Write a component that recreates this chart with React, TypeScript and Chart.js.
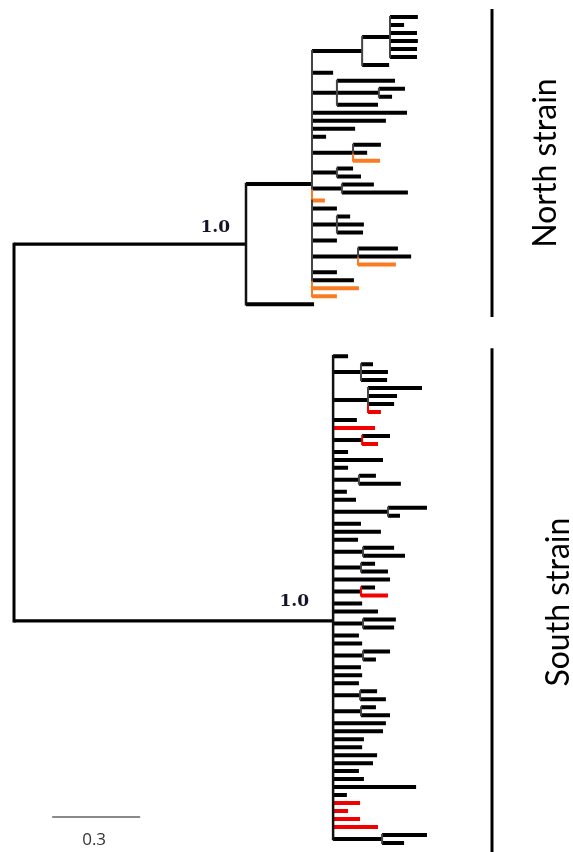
import React, { useEffect, useRef } from "react";
import { Chart, registerables } from "chart.js";

Chart.register(...registerables);

// ---------- DATA (branch depths in substitutions per site) ----------
// internal nodes: 0 = root, 1 = North clade, 2 = South clade, others = sub-clades
const nodeParent = [-1, 0, 0, 1, 3, 4, 3, 6, 3, 3, 3, 3, 3, 2, 2, 2, 2, 2, 2, 2, 2, 2, 2, 2, 2, 2];
const nodeDepth = [
  0, 0.791, 1.088, 1.016, 1.187, 1.282, 1.101, 1.244, 1.156, 1.101, 1.118, 1.101, 1.173,
  1.183, 1.207, 1.187, 1.176, 1.275, 1.19, 1.183, 1.183, 1.19, 1.19, 1.18, 1.183, 1.255,
];

// tips, top to bottom
const northTipParent = [5, 5, 5, 5, 5, 5, 4, 3, 6, 7, 7, 6, 3, 3, 3, 3, 8, 8, 8, 9, 9, 10, 10, 3, 3, 11, 11, 11, 3, 12, 12, 12, 3, 3, 3, 3, 1];
const northTipDepth = [
  1.377, 1.33, 1.374, 1.377, 1.374, 1.374, 1.279, 1.088, 1.299, 1.333, 1.289, 1.241,
  1.34, 1.268, 1.163, 1.064, 1.251, 1.204, 1.248, 1.156, 1.183, 1.227, 1.343, 1.06,
  1.101, 1.146, 1.193, 1.19, 1.101, 1.309, 1.354, 1.302, 1.101, 1.159, 1.176, 1.101, 1.023,
];
const northHighlightedTips = [18, 23, 31, 34, 35];

const southTipParent = [
  2, 13, 13, 13, 14, 14, 14, 14, 2, 2, 15, 15, 2, 2, 2, 16, 16, 2, 2, 17, 17, 2, 2, 2,
  18, 18, 19, 19, 2, 20, 20, 2, 2, 21, 21, 2, 2, 22, 22, 2, 2, 2, 23, 23, 24, 24,
  2, 2, 2, 2, 2, 2, 2, 2, 2, 2, 2, 2, 2, 2, 25, 25,
];
const southTipDepth = [
  1.139, 1.224, 1.275, 1.272, 1.391, 1.306, 1.296, 1.251, 1.169, 1.231, 1.282, 1.241,
  1.139, 1.258, 1.139, 1.234, 1.319, 1.135, 1.166, 1.408, 1.316, 1.183, 1.251, 1.173,
  1.296, 1.333, 1.231, 1.275, 1.282, 1.231, 1.275, 1.187, 1.241, 1.302, 1.296, 1.176,
  1.187, 1.282, 1.234, 1.183, 1.187, 1.176, 1.238, 1.268, 1.234, 1.282, 1.268, 1.258,
  1.193, 1.187, 1.238, 1.224, 1.176, 1.193, 1.371, 1.135, 1.18, 1.139, 1.18, 1.241,
  1.408, 1.33,
];
const southHighlightedTips = [7, 9, 11, 30, 56, 57, 58, 59];

const supportNodes = [1, 2];
const supportValues = ["1.0", "1.0"];
const cladeNames = ["North strain", "South strain"];
const scaleBarLength = 0.3;
const scaleBarLabel = "0.3";

// ---------- LAYOUT / STYLE ----------
const W = 573;
const H = 852;
const CLADE_GAP = 5.5; // extra empty tip slots between the clades
const COLORS: Record<string, string> = { base: "#000000", north: "#F97B22", south: "#F20000" };

// ---------- TREE LAYOUT ----------
const nN = northTipParent.length;
const tipParent = [...northTipParent, ...southTipParent];
const tipDepth = [...northTipDepth, ...southTipDepth];
const tipSlot = tipParent.map((_, i) => (i < nN ? i : i + CLADE_GAP));
const tipKey = tipParent.map((_, i) =>
  i < nN
    ? northHighlightedTips.includes(i) ? "north" : "base"
    : southHighlightedTips.includes(i - nN) ? "south" : "base"
);

type Child = { y: number; key: string };
const children: Child[][] = nodeDepth.map(() => []);
tipParent.forEach((p, i) => children[p].push({ y: tipSlot[i], key: tipKey[i] }));
const nodeY: number[] = new Array(nodeDepth.length).fill(0);
for (let n = nodeDepth.length - 1; n >= 0; n--) {
  const ys = children[n].map((c) => c.y);
  nodeY[n] = ys.reduce((a, b) => a + b, 0) / ys.length;
  if (nodeParent[n] >= 0) children[nodeParent[n]].push({ y: nodeY[n], key: "base" });
}

function buildDatasets() {
  const buckets = new Map<string, { color: string; width: number; cap: string; pts: any[] }>();
  const seg = (x1: number, y1: number, x2: number, y2: number, color: string, width: number, cap: string) => {
    const k = color + "|" + width + "|" + cap;
    if (!buckets.has(k)) buckets.set(k, { color, width, cap, pts: [] });
    const b = buckets.get(k)!;
    b.pts.push({ x: x1, y: y1 }, { x: x2, y: y2 }, { x: x2, y: null });
  };
  // vertical stems
  for (let n = 0; n < nodeDepth.length; n++) {
    const cs = [...children[n]].sort((a, b) => a.y - b.y);
    const isRoot = n === 0;
    const isClade = nodeParent[n] === 0;
    for (let i = 1; i < cs.length; i++) {
      let color = isRoot ? "#000" : isClade ? "#111" : "#444";
      if (!isRoot && !isClade && cs[i].key !== "base") color = COLORS[cs[i].key];
      const w = isRoot ? 3 : isClade ? 2.5 : 2;
      seg(nodeDepth[n], cs[i - 1].y, nodeDepth[n], cs[i].y, color, w, "square");
    }
  }
  // internal branches
  for (let n = 1; n < nodeDepth.length; n++) {
    const w = nodeParent[n] === 0 ? 3.2 : 4;
    seg(nodeDepth[nodeParent[n]], nodeY[n], nodeDepth[n], nodeY[n], "#000", w, "butt");
  }
  // terminal branches
  tipParent.forEach((p, i) => {
    seg(nodeDepth[p], tipSlot[i], tipDepth[i], tipSlot[i], COLORS[tipKey[i]], 4, "butt");
  });
  return [...buckets.values()].map((b) => ({
    data: b.pts,
    showLine: true,
    borderColor: b.color,
    backgroundColor: b.color,
    borderWidth: b.width,
    borderCapStyle: b.cap,
    borderJoinStyle: "miter",
    pointRadius: 0,
    pointHoverRadius: 0,
    tension: 0,
    spanGaps: false,
    fill: false,
  }));
}

// pixel mapping: x 14px = depth 0, 293.3 px per unit; tip slot 0 at 17px, 7.98 px per slot
const X_MIN = -14 / 293.3;
const X_MAX = (W - 14) / 293.3;
const Y_MIN = -17 / 7.98;
const Y_MAX = (H - 17) / 7.98;

const decorPlugin = {
  id: "treeDecor",
  afterDatasetsDraw(chart: any) {
    const { ctx, scales } = chart;
    const xs = scales.x;
    const ys = scales.y;
    ctx.save();

    // support values
    const supportOffsets = [
      [16, 12],
      [24, 15],
    ];
    ctx.font = 'bold 17px "DejaVu Serif"';
    ctx.fillStyle = "#141428";
    ctx.textAlign = "right";
    ctx.textBaseline = "alphabetic";
    supportNodes.forEach((n, i) => {
      const px = xs.getPixelForValue(nodeDepth[n]) - supportOffsets[i][0];
      const py = ys.getPixelForValue(nodeY[n]) - supportOffsets[i][1];
      ctx.fillText(supportValues[i], px, py);
    });

    // clade bars + labels
    const ranges = [
      [tipSlot[0], tipSlot[nN - 1]],
      [tipSlot[nN], tipSlot[tipSlot.length - 1]],
    ];
    const barX = chart.chartArea.right - 81;
    const labelDx = [64, 77];
    ranges.forEach((r, i) => {
      const y1 = ys.getPixelForValue(r[0] - 1.0);
      const y2 = ys.getPixelForValue(r[1] + 1.6);
      ctx.strokeStyle = "#000";
      ctx.lineWidth = 3;
      ctx.lineCap = "butt";
      ctx.beginPath();
      ctx.moveTo(barX, y1);
      ctx.lineTo(barX, y2);
      ctx.stroke();
      ctx.save();
      ctx.translate(barX + labelDx[i], (y1 + Math.min(y2, chart.height)) / 2 + (i === 1 ? 2 : 0));
      ctx.rotate(-Math.PI / 2);
      ctx.font = '32px "Lato"';
      ctx.fillStyle = "#000";
      ctx.textAlign = "center";
      ctx.textBaseline = "alphabetic";
      ctx.fillText(cladeNames[i], 0, 0);
      ctx.restore();
    });

    // scale bar
    const sx1 = xs.getPixelForValue(0.13);
    const sx2 = xs.getPixelForValue(0.13 + scaleBarLength);
    const sy = chart.chartArea.bottom - 35;
    ctx.strokeStyle = "#8a8a8a";
    ctx.lineWidth = 2;
    ctx.beginPath();
    ctx.moveTo(sx1, sy);
    ctx.lineTo(sx2, sy);
    ctx.stroke();
    ctx.font = '17px "Open Sans"';
    ctx.fillStyle = "#333";
    ctx.textAlign = "center";
    ctx.fillText(scaleBarLabel, (sx1 + sx2) / 2 - 2, sy + 28);

    ctx.restore();
  },
};

export default function App() {
  const ref = useRef<HTMLCanvasElement | null>(null);
  useEffect(() => {
    if (!ref.current) return;
    const chart = new Chart(ref.current, {
      type: "scatter",
      data: { datasets: buildDatasets() as any },
      options: {
        animation: false,
        responsive: false,
        maintainAspectRatio: false,
        events: [],
        layout: { padding: 0 },
        plugins: { legend: { display: false }, tooltip: { enabled: false } },
        scales: {
          x: { type: "linear", min: X_MIN, max: X_MAX, display: false },
          y: { type: "linear", min: Y_MIN, max: Y_MAX, reverse: true, display: false },
        },
      },
      plugins: [decorPlugin],
    } as any);
    return () => chart.destroy();
  }, []);
  return (
    <div style={{ position: "absolute", left: 0, top: 0, width: W, height: H, background: "#fff" }}>
      <canvas ref={ref} width={W} height={H} style={{ display: "block", width: W, height: H }} />
    </div>
  );
}
